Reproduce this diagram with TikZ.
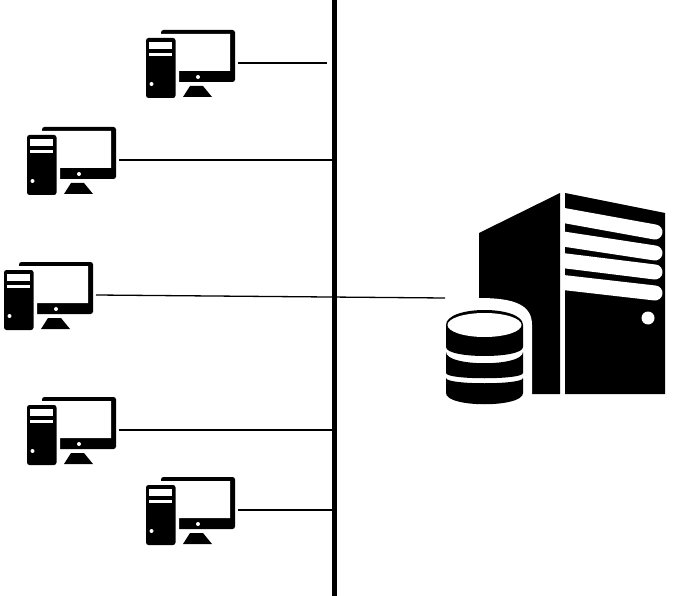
\documentclass[tikz,border=0pt]{standalone}
\usepackage{tikz}
\tikzset{line/.style={black,line width=1.3pt}}
\tikzset{busline/.style={black,line width=4.5pt}}
\tikzset{solid part/.style={fill=black,draw=none}}
\tikzset{cut part/.style={fill=white,draw=none}}
\tikzset{slot/.style={white,line width=15pt,line cap=round}}
\tikzset{pc/.pic={
    % Monitor
    \fill[solid part,rounded corners=2.5pt] (15,0) rectangle (89,52);
    \fill[cut part] (10,4) -- (84,4) -- (84,41) -- (33,41) -- (33,56) -- (10,56) -- cycle;
    \fill[solid part] (44,56) -- (57,56) -- (66,67) -- (37,67) -- cycle;
    \fill[cut part] (52,47) circle (2);
    % Tower
    \fill[solid part,rounded corners=2.5pt] (0,8) rectangle (29.5,68);
    \fill[cut part] (3,12) rectangle (26,19);
    \fill[cut part] (3,22.7) rectangle (26,26);
    \fill[cut part] (5.5,54) circle (2);
    \coordinate (-port) at (92,33);
  }}
\newcommand{\dbband}[4]{(446,#1) .. controls (446,#1+#2) and (523,#1+#2) .. (523,#1) -- (523,#3) .. controls (523,#3+#4) and (446,#3+#4) .. (446,#3) -- cycle}
\begin{document}
\begin{tikzpicture}[x=1pt,y=-1pt]
  \useasboundingbox (0,0) rectangle (677,596);
  % Bus
  \coordinate (bustop) at (334.5,0);
  \coordinate (busbot) at (334.5,596);
  \draw[busline] (bustop) -- (busbot);

  % Clients
  \foreach \i/\x/\y in {1/146/30,2/27/127,3/4/262,4/27/397,5/146/477}
  {
    \pic (pc\i) at (\x,\y) {pc};
  }

  % Server, right face
  \fill[solid part] (565,193) -- (665,213) -- (665,394) -- (565,394) -- cycle;
  \foreach \ya/\yb in {213/232,237/253,259/272,281/293}
  {
    \draw[slot] (550,\ya) -- (655,\yb);
  }
  \fill[cut part] (648,318) circle (6.5);
  % Server, left face
  \fill[solid part] (479,233) -- (560,193) -- (560,394) -- (479,394) -- cycle;
  \fill[cut part] (470,298) -- (479,298) .. controls (515,298) and (532,305) .. (532,325) -- (532,410) -- (470,410) -- cycle;
  \fill[cut part] (440,394) rectangle (532,410);

  % Database
  \fill[solid part] \dbband{325}{-20}{347}{12};
  \fill[cut part] (484.5,325) ellipse (37 and 12);
  \fill[solid part] \dbband{352}{15}{373}{7};
  \fill[solid part] \dbband{378}{7}{393}{15};
  \coordinate (db) at (445,298);

  % Connections
  \coordinate (stub) at (327,63);
  \draw[line] (pc1-port) -- (stub);
  \draw[line] (pc2-port) -- (pc2-port -| bustop);
  \draw[line] (pc3-port) -- (db);
  \draw[line] (pc4-port) -- (pc4-port -| bustop);
  \draw[line] (pc5-port) -- (pc5-port -| bustop);
\end{tikzpicture}
\end{document}
